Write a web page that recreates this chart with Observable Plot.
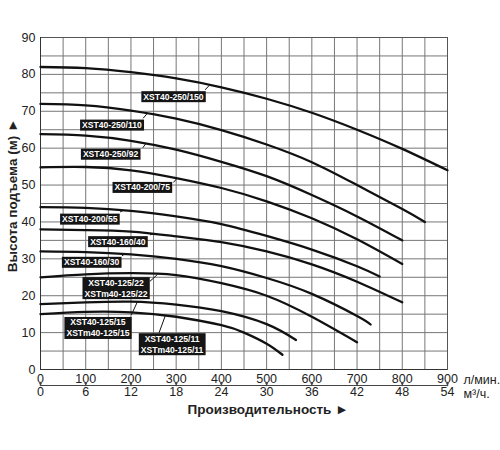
<!DOCTYPE html>
<html><head><meta charset="utf-8">
<script src="https://cdn.jsdelivr.net/npm/d3@7"></script>
<script src="https://cdn.jsdelivr.net/npm/@observablehq/plot@0.6"></script>
<style>
body{margin:0;background:#fff;}
svg{display:block;}
</style>
</head><body>
<div id="chart"></div>
<script>
// Tick labels
const flowTicks = [0,100,200,300,400,500,600,700,800,900];      // л/мин.
const m3hTicks  = [0,6,12,18,24,30,36,42,48,54];                 // м³/ч.
const headTicks = [0,10,20,30,40,50,60,70,80,90];
const flowGrid  = [0,50,100,150,200,250,300,350,400,450,500,550,600,650,700,750,800,850,900];
const headGrid  = [0,5,10,15,20,25,30,35,40,45,50,55,60,65,70,75,80,85,90];

// Pump curves (flow л/мин., head м)
const models = ["XST40-250/150","XST40-250/110","XST40-250/92","XST40-200/75","XST40-200/55",
                "XST40-160/40","XST40-160/30","XST40-125/22","XST40-125/15","XST40-125/11"];
const flow_250_150 = [0,100,200,300,400,500,600,700,800,900];
const head_250_150 = [82,81.7,80.6,78.9,76.5,73.4,69.6,65,59.8,54];
const flow_250_110 = [0,100,200,300,400,500,600,700,800,850];
const head_250_110 = [72,71.6,70.2,68,64.9,61,56.2,50,43.5,40];
const flow_250_92  = [0,100,200,300,400,500,600,700,800];
const head_250_92  = [63.8,63.4,62,59.6,56.3,52.4,47.3,41.5,35];
const flow_200_75  = [0,100,200,300,400,500,600,700,800];
const head_200_75  = [54.8,54.9,54,51.9,49.2,45.6,41,35.3,28.6];
const flow_200_55  = [0,100,200,300,400,500,600,700,750];
const head_200_55  = [44,43.8,43,41.5,39.4,36.2,32.5,28,25.2];
const flow_160_40  = [0,100,200,300,400,500,600,700,800];
const head_160_40  = [38,37.8,37.4,36.1,34.5,32,28.5,23.8,18.2];
const flow_160_30  = [0,100,200,300,400,500,600,700,730];
const head_160_30  = [32,31.8,31.2,30,28,24.8,20.5,14.5,12.2];
const flow_125_22  = [0,100,200,300,400,500,600,700];
const head_125_22  = [25,25.8,26.1,25.6,23.4,20,14.3,7.4];
const flow_125_15  = [0,100,200,300,400,500,565];
const head_125_15  = [17.7,18.2,18.4,17.6,15.8,12.3,8];
const flow_125_11  = [0,100,200,300,400,450,500,535];
const head_125_11  = [15,15.6,15.5,14.3,12,10,7,4];

const flows = [flow_250_150,flow_250_110,flow_250_92,flow_200_75,flow_200_55,flow_160_40,flow_160_30,flow_125_22,flow_125_15,flow_125_11];
const heads = [head_250_150,head_250_110,head_250_92,head_200_75,head_200_55,head_160_40,head_160_30,head_125_22,head_125_15,head_125_11];

// Labels (box centre, leader start, leader end flow) in data units
const labelText = ["XST40-250/150","XST40-250/110","XST40-250/92","XST40-200/75","XST40-200/55",
                   "XST40-160/40","XST40-160/30","XST40-125/22\nXSTm40-125/22",
                   "XST40-125/15\nXSTm40-125/15","XST40-125/11\nXSTm40-125/11"];
const labelFlow = [294,158,155,225,109,171,113,167,127,291];
const labelHead = [74.1,66.4,58.5,49.5,40.9,34.8,29.2,22.2,11.4,7.0];
const leadFlow0 = [364,227,226,294,176,242,180,242,201,262];
const leadHead0 = [75.8,68.1,60.1,50.7,42.7,36.5,30.8,23.9,14.8,9.9];
const leadFlow1 = [374,236,233,302,183,250,186,259,214,276];

const rows = models.flatMap((m, k) => flows[k].map((q, i) => ({model: m, q, h: heads[k][i]})));
function headAt(k, q) {
  const F = flows[k], H = heads[k];
  for (let i = 0; i < F.length - 1; i++) {
    if (q >= F[i] && q <= F[i+1]) return H[i] + (H[i+1]-H[i])*(q-F[i])/(F[i+1]-F[i]);
  }
  return H[H.length-1];
}
const labels = labelText.map((t, k) => ({
  text: t, lq: labelFlow[k], lh: labelHead[k],
  q0: leadFlow0[k], h0: leadHead0[k], q1: leadFlow1[k], h1: headAt(k, leadFlow1[k])
}));

const font = "'Liberation Sans', Arial, Helvetica, sans-serif";
const plot = Plot.plot({
  width: 500, height: 450,
  marginLeft: 40, marginRight: 53, marginTop: 37, marginBottom: 81,
  style: {fontFamily: font, fontSize: "12px", color: "#222", background: "#fff"},
  x: {domain: [0, 900]},
  y: {domain: [0, 90]},
  marks: [
    Plot.ruleX(flowGrid, {stroke: "#777", strokeWidth: 1}),
    Plot.ruleY(headGrid, {stroke: "#777", strokeWidth: 1}),
    Plot.frame({stroke: "#555"}),
    Plot.ruleX([0], {stroke: "#333"}),
    Plot.ruleY([0], {stroke: "#333"}),
    Plot.line(rows, {x: "q", y: "h", z: "model", stroke: "#111", strokeWidth: 2.3, curve: "natural"}),
    Plot.link(labels, {x1: "q0", y1: "h0", x2: "q1", y2: "h1", stroke: "#111", strokeWidth: 1}),
    Plot.text(labels, {x: "lq", y: "lh", text: "text", fill: "white", fontWeight: "bold",
      fontSize: 8.6, lineHeight: 1.28}),
    Plot.axisY(headTicks, {tickSize: 0, tickPadding: 5, label: null, fontSize: 12.5, fill: "#222"}),
    Plot.axisX(flowTicks, {tickSize: 0, tickPadding: 5, label: null, fontSize: 12.5, fill: "#222"}),
    Plot.ruleY([0], {dy: 16, stroke: "#444"}),
    Plot.vector(flowTicks, {x: d => d, y: 0, dy: 16, length: 3, rotate: 0, anchor: "start", stroke: "#444"}),
    Plot.axisX(flowTicks, {tickSize: 0, tickPadding: 18, label: null, fontSize: 12.5, fill: "#222",
      tickFormat: d => m3hTicks[flowTicks.indexOf(d)]}),
    Plot.text(["л/мин."], {text: d => d, frameAnchor: "bottom-right", textAnchor: "start", lineAnchor: "middle",
      dx: 16, dy: 10, fontSize: 12.5, fill: "#222"}),
    Plot.text(["м³/ч."], {text: d => d, frameAnchor: "bottom-right", textAnchor: "start", lineAnchor: "middle",
      dx: 16, dy: 24, fontSize: 12.5, fill: "#222"}),
    Plot.text(["Высота подъема (м) ►"], {text: d => d, frameAnchor: "left", textAnchor: "middle", lineAnchor: "middle",
      rotate: -90, dx: -28, dy: -8, fontWeight: "bold", fontSize: 13.5, fill: "#222"}),
    Plot.text(["Производительность ►"], {text: d => d, frameAnchor: "bottom", textAnchor: "middle", lineAnchor: "middle",
      dx: 24, dy: 40, fontWeight: "bold", fontSize: 13.5, fill: "#222"})
  ]
});
document.getElementById("chart").append(plot);

// black boxes behind the model labels
Array.from(plot.querySelectorAll("text"))
  .filter(t => t.textContent.startsWith("XST"))
  .forEach(t => {
    const b = t.getBBox();
    const r = document.createElementNS("http://www.w3.org/2000/svg", "rect");
    r.setAttribute("x", b.x - 2);
    r.setAttribute("y", b.y - 0.5);
    r.setAttribute("width", b.width + 4);
    r.setAttribute("height", b.height + 1);
    r.setAttribute("fill", "#151515");
    const tr = t.getAttribute("transform");
    if (tr) r.setAttribute("transform", tr);
    t.parentNode.insertBefore(r, t);
  });
</script>
</body></html>
